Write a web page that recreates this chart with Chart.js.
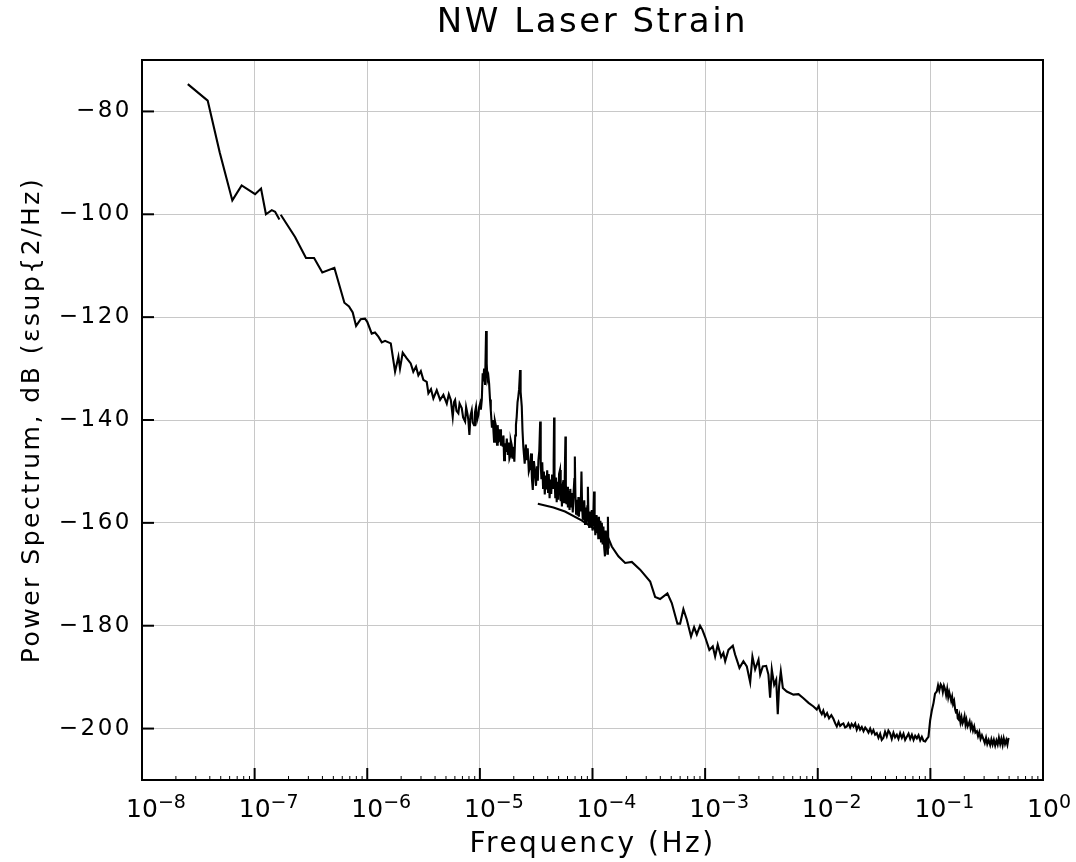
<!DOCTYPE html>
<html>
<head>
<meta charset="utf-8">
<script src="https://cdn.jsdelivr.net/npm/chart.js@4.4.1/dist/chart.umd.min.js"></script>
<style>
html,body{margin:0;padding:0;background:#fff;}
canvas{display:block;}
</style>
</head>
<body>
<canvas id="c" width="1076" height="862"></canvas>
<script>
// ---- data (frequency in Hz, power in dB) ----
const chartTitle = 'NW Laser Strain';
const xTitle = 'Frequency (Hz)';
const yTitle = 'Power Spectrum, dB (εsup{2/Hz)';
const xDecades = [-8, -7, -6, -5, -4, -3, -2, -1, 0];
const yTickValues = [-200, -180, -160, -140, -120, -100, -80];

// segment A: lowest frequencies
const segAFreq = [2.55e-8, 3.83e-8, 4.9e-8, 6.34e-8, 7.67e-8, 1.01e-7, 1.14e-7, 1.26e-7, 1.42e-7, 1.52e-7, 1.66e-7];
const segADb   = [-74.7, -77.9, -88.0, -97.3, -94.4, -96.1, -95.0, -100.0, -99.2, -99.5, -101.0];

// segment B: middle band with spectral lines
const segBFreq = [
 1.706e-7, 2.286e-7, 2.858e-7, 3.373e-7, 3.990e-7, 5.105e-7, 6.266e-7, 6.887e-7, 7.43e-7, 7.96e-7,
 8.75e-7, 9.55e-7, 1.0e-6, 1.096e-6, 1.172e-6, 1.256e-6, 1.346e-6, 1.439e-6, 1.618e-6, 1.766e-6,
 1.892e-6, 1.954e-6, 2.065e-6, 2.244e-6, 2.432e-6, 2.564e-6, 2.710e-6, 2.844e-6, 2.99e-6, 3.148e-6,
 3.373e-6, 3.491e-6, 3.681e-6, 3.864e-6, 4.140e-6, 4.436e-6, 4.742e-6,
 5.082e-6, 5.3e-6, 5.521e-6, 5.741e-6, 5.9e-6, 6.026e-6, 6.2e-6, 6.442e-6, 6.6e-6, 6.902e-6,
 7.1e-6, 7.396e-6, 7.55e-6, 7.745e-6, 7.9e-6, 8.072e-6, 8.25e-6, 8.472e-6, 8.65e-6, 8.872e-6,
 9.05e-6, 9.247e-6, 9.45e-6, 9.705e-6, 9.85e-6, 1.005e-5, 1.02e-5, 1.040e-5, 1.059e-5, 1.074e-5,
 1.09e-5, 1.112e-5, 1.135e-5, 1.15e-5, 1.167e-5, 1.19e-5, 1.208e-5, 1.23e-5, 1.250e-5,
 1.28e-5, 1.303e-5, 1.337e-5, 1.36e-5, 1.393e-5, 1.42e-5, 1.44e-5, 1.462e-5, 1.489e-5, 1.51e-5,
 1.54e-5, 1.567e-5, 1.596e-5, 1.62e-5, 1.641e-5, 1.67e-5, 1.70e-5, 1.734e-5, 1.77e-5, 1.80e-5,
 1.83e-5, 1.854e-5, 1.88e-5, 1.919e-5, 1.95e-5, 1.98e-5, 2.023e-5, 2.06e-5, 2.09e-5, 2.123e-5,
 2.16e-5, 2.193e-5, 2.23e-5, 2.275e-5, 2.30e-5, 2.355e-5, 2.39e-5,
 2.43e-5, 2.50e-5, 2.56e-5, 2.61e-5, 2.66e-5, 2.72e-5, 2.79e-5, 2.85e-5, 2.90e-5, 2.95e-5,
 3.02e-5, 3.09e-5, 3.15e-5, 3.21e-5, 3.27e-5, 3.31e-5, 3.37e-5, 3.43e-5, 3.47e-5, 3.52e-5,
 3.58e-5, 3.64e-5, 3.70e-5, 3.77e-5, 3.84e-5, 3.90e-5, 3.96e-5, 4.03e-5, 4.09e-5, 4.16e-5,
 4.23e-5, 4.30e-5, 4.38e-5, 4.46e-5, 4.52e-5, 4.56e-5, 4.60e-5, 4.67e-5, 4.74e-5, 4.81e-5,
 4.89e-5, 4.97e-5, 5.05e-5, 5.15e-5, 5.22e-5, 5.30e-5, 5.35e-5, 5.43e-5, 5.52e-5, 5.60e-5,
 5.67e-5, 5.75e-5, 5.80e-5, 5.87e-5, 5.95e-5, 6.05e-5, 6.15e-5, 6.25e-5, 6.35e-5, 6.45e-5,
 6.56e-5, 6.68e-5, 6.80e-5, 6.90e-5, 6.97e-5, 7.05e-5, 7.15e-5, 7.26e-5, 7.38e-5, 7.50e-5,
 7.57e-5, 7.70e-5, 7.85e-5, 7.98e-5, 8.08e-5, 8.20e-5, 8.32e-5, 8.45e-5, 8.58e-5, 8.70e-5,
 8.85e-5, 9.00e-5, 9.10e-5, 9.20e-5, 9.35e-5, 9.53e-5, 9.70e-5, 9.85e-5, 1.00e-4, 1.02e-4,
 1.033e-4, 1.045e-4, 1.06e-4, 1.076e-4, 1.09e-4, 1.11e-4, 1.125e-4, 1.14e-4, 1.16e-4, 1.175e-4,
 1.19e-4, 1.21e-4, 1.23e-4, 1.25e-4, 1.27e-4, 1.29e-4, 1.31e-4, 1.325e-4, 1.34e-4, 1.355e-4,
 1.37e-4, 1.38e-4, 1.39e-4
];
const segBDb = [
 -100.1, -104.4, -108.5, -108.5, -111.3, -110.4, -117.2, -117.9, -119.1, -121.7,
 -120.4, -120.3, -120.9, -123.2, -123.0, -123.8, -124.9, -124.6, -125.1, -130.6,
 -127.7, -130.0, -126.9, -128.0, -129.0, -130.6, -129.6, -131.3, -130.5, -132.2,
 -132.6, -134.8, -134.0, -135.8, -134.2, -136.1, -135.1,
 -136.8, -135.0, -136.1, -139.4, -136.5, -136.1, -138.2, -138.7, -136.8, -137.7,
 -139.5, -140.3, -137.5, -138.7, -140.0, -142.9, -139.2, -138.1, -140.5, -141.0,
 -138.5, -137.4, -140.0, -139.0, -137.5, -136.8, -138.0, -136.1, -130.9, -132.5,
 -130.0, -133.2, -122.7, -129.0, -132.2, -131.5, -132.9, -136.0, -138.1,
 -141.5, -140.0, -144.2, -140.2, -141.3, -144.8, -141.0, -144.2, -143.9, -141.8,
 -145.0, -143.2, -145.2, -143.0, -147.8, -144.5, -146.2, -143.6, -146.8, -144.4,
 -147.5, -147.1, -144.0, -144.9, -147.5, -145.2, -148.1, -143.0, -141.0, -139.4,
 -136.5, -135.5, -134.0, -130.3, -134.5, -137.4, -142.0,
 -145.2, -148.5, -144.8, -147.8, -145.5, -150.0, -149.1, -146.5, -151.5, -153.6,
 -148.0, -150.4, -152.8, -149.0, -151.8, -147.8, -146.0, -140.3, -148.5, -151.5,
 -148.2, -153.2, -150.0, -154.5, -150.8, -153.5, -149.8, -154.0, -150.5, -155.2,
 -151.6, -154.4, -150.6, -153.2, -148.0, -139.5, -150.6, -155.0, -151.2, -156.0,
 -152.0, -155.5, -150.5, -149.7, -155.8, -152.4, -156.8, -152.8, -151.7, -156.0,
 -151.0, -143.2, -152.5, -156.4, -153.0, -157.0, -153.8, -157.5, -153.4, -156.8,
 -154.2, -158.0, -154.0, -151.5, -147.1, -154.6, -158.2, -155.5, -158.6, -155.0,
 -158.8, -155.2, -157.8, -150.0, -156.5, -159.4, -158.1, -155.6, -160.2, -157.0,
 -160.1, -156.8, -153.0, -158.6, -161.0, -157.8, -160.7, -157.5, -161.5, -158.0,
 -153.9, -159.5, -162.4, -158.5, -162.0, -159.0, -163.0, -158.8, -162.5, -159.6,
 -163.6, -160.0, -164.2, -160.7, -164.8, -166.5, -161.5, -164.5, -162.0, -166.0,
 -158.8, -163.5, -165.0
];

// segment C: high frequencies
const segCFreq = [
 3.27e-5, 4.5e-5, 5.7e-5, 8.0e-5, 1.1e-4, 1.384e-4, 1.483e-4, 1.698e-4, 1.950e-4, 2.234e-4,
 2.649e-4, 3.251e-4, 3.597e-4, 3.981e-4, 4.624e-4, 5.058e-4, 5.675e-4, 5.998e-4, 6.412e-4, 6.871e-4,
 7.499e-4, 7.980e-4, 8.433e-4, 9.016e-4, 9.462e-4, 1.0e-3, 1.091e-3, 1.169e-3, 1.227e-3, 1.294e-3,
 1.387e-3, 1.452e-3, 1.507e-3, 1.611e-3, 1.762e-3, 1.845e-3, 1.910e-3, 2.018e-3, 2.188e-3, 2.344e-3,
 2.512e-3, 2.630e-3, 2.780e-3, 2.979e-3, 3.083e-3, 3.251e-3, 3.483e-3, 3.648e-3, 3.776e-3, 3.908e-3,
 4.102e-3, 4.276e-3, 4.416e-3, 4.539e-3, 4.699e-3, 4.898e-3, 5.309e-3, 6.081e-3, 6.745e-3, 7.464e-3,
 8.279e-3, 9.162e-3, 9.795e-3, 1.02e-2, 1.050e-2, 1.086e-2, 1.12e-2, 1.161e-2, 1.21e-2, 1.26e-2,
 1.32e-2, 1.377e-2, 1.43e-2, 1.476e-2, 1.53e-2, 1.58e-2, 1.633e-2, 1.69e-2, 1.75e-2, 1.811e-2,
 1.87e-2, 1.94e-2, 2.00e-2, 2.075e-2, 2.15e-2, 2.22e-2, 2.30e-2, 2.377e-2, 2.46e-2, 2.55e-2,
 2.64e-2, 2.723e-2, 2.82e-2, 2.92e-2, 3.02e-2, 3.12e-2, 3.23e-2, 3.342e-2, 3.46e-2, 3.58e-2,
 3.70e-2, 3.828e-2, 3.96e-2, 4.10e-2, 4.24e-2, 4.385e-2, 4.54e-2, 4.70e-2, 4.86e-2, 5.035e-2,
 5.21e-2, 5.39e-2, 5.58e-2, 5.77e-2, 5.97e-2, 6.18e-2, 6.40e-2, 6.62e-2, 6.85e-2, 7.09e-2,
 7.33e-2, 7.586e-2, 7.85e-2, 8.12e-2, 8.40e-2, 8.70e-2, 8.995e-2, 9.30e-2, 9.616e-2, 9.954e-2,
 0.1030, 0.1067, 0.1100, 0.1140, 0.1170, 0.1200, 0.1235, 0.1265, 0.1290, 0.1320,
 0.1352, 0.1380, 0.1410, 0.1440, 0.1470, 0.1500, 0.1530, 0.1560, 0.1590, 0.1625,
 0.1660, 0.1690, 0.1720, 0.1750, 0.1778, 0.1810, 0.1850, 0.1890, 0.1930, 0.1968,
 0.2010, 0.2050, 0.2090, 0.2140, 0.2183, 0.2230, 0.2280, 0.2330, 0.2390, 0.2450,
 0.2510, 0.2588, 0.2650, 0.2720, 0.2790, 0.2870, 0.2965, 0.3040, 0.3120, 0.3200,
 0.3290, 0.3396, 0.3480, 0.3570, 0.3660, 0.3760, 0.3860, 0.3960, 0.4060, 0.4169,
 0.4270, 0.4380, 0.4480, 0.4600, 0.4720, 0.4830, 0.4943
];
const segCDb = [
 -156.3, -157.0, -157.8, -159.5, -161.5, -163.0, -164.6, -166.5, -167.8, -167.6,
 -169.1, -171.4, -174.4, -174.8, -173.7, -175.6, -179.6, -179.6, -176.8, -178.8,
 -182.1, -180.3, -181.7, -180.0, -180.8, -182.2, -184.7, -184.0, -186.0, -183.7,
 -186.1, -185.3, -186.9, -184.7, -183.9, -185.6, -186.6, -188.2, -186.9, -187.9,
 -191.0, -186.0, -188.5, -186.6, -189.5, -187.9, -187.8, -189.5, -194.0, -188.5,
 -191.5, -190.5, -197.2, -191.8, -188.9, -192.1, -192.8, -193.4, -193.3, -194.1,
 -195.0, -195.7, -196.3, -195.6, -196.6, -197.2, -196.5, -197.6, -197.0, -198.0,
 -197.4, -198.1, -199.0, -199.6, -198.7, -199.5, -199.2, -199.0, -199.8, -199.6,
 -199.0, -199.8, -199.1, -199.6, -199.0, -200.2, -199.4, -200.2, -199.7, -200.5,
 -199.8, -200.2, -200.8, -200.0, -200.9, -200.3, -201.2, -200.9, -201.8, -201.0,
 -202.2, -201.8, -200.6, -201.5, -200.4, -200.9, -202.0, -200.8, -201.7, -201.2,
 -202.0, -200.9, -201.8, -201.0, -202.2, -201.6, -201.0, -202.0, -201.2, -202.2,
 -201.4, -201.9, -201.3, -202.3, -201.6, -202.4, -202.5, -202.0, -201.6, -198.4,
 -196.5, -195.0, -193.2, -192.8, -191.6, -192.6, -191.4, -191.8, -192.9, -191.7,
 -192.4, -193.5, -192.3, -193.9, -192.9, -193.7, -194.6, -193.8, -195.2, -194.6,
 -196.3, -196.9, -196.2, -198.0, -198.2, -197.4, -198.8, -197.8, -199.0, -198.5,
 -197.6, -199.2, -198.3, -199.6, -199.2, -198.6, -200.0, -199.2, -200.4, -199.6,
 -200.8, -200.5, -201.5, -200.7, -202.0, -201.3, -202.1, -202.8, -201.8, -203.0,
 -202.2, -203.2, -202.1, -203.1, -202.2, -203.3, -202.3, -203.1, -201.8, -203.0,
 -202.0, -203.2, -201.9, -203.0, -202.2, -203.1, -201.8
];

// ---- chart ----
const FONT = '"DejaVu Sans", "Liberation Sans", sans-serif';
const toPoints = (fs, ds) => fs.map((f, i) => ({x: f, y: ds[i]}));
const lineStyle = {showLine: true, borderColor: '#000', borderWidth: 2.1, pointRadius: 0, tension: 0, fill: false};

const decor = {
  id: 'decor',
  beforeDraw(chart) {
    const c = chart.ctx;
    c.save();
    c.fillStyle = '#fff';
    c.fillRect(0, 0, chart.width, chart.height);
    c.restore();
    c.letterSpacing = '2.5px';
  },
  afterDraw(chart) {
    const {ctx, chartArea: a, scales: {x, y}} = chart;
    ctx.save();
    ctx.letterSpacing = '0px';
    ctx.strokeStyle = '#000';
    ctx.lineWidth = 2;
    ctx.strokeRect(a.left, a.top, a.right - a.left, a.bottom - a.top);
    const seg = (x1, y1, x2, y2) => { ctx.beginPath(); ctx.moveTo(x1, y1); ctx.lineTo(x2, y2); ctx.stroke(); };
    // inward y ticks
    yTickValues.forEach(v => { const py = y.getPixelForValue(v); seg(a.left, py, a.left + 12, py); });
    // inward x ticks (major + minor)
    xDecades.forEach(e => {
      for (let m = 1; m < 10; m++) {
        const v = m * Math.pow(10, e);
        if (v > 1.0000001) break;
        const px = x.getPixelForValue(v);
        ctx.lineWidth = m === 1 ? 2 : 1;
        seg(px, a.bottom, px, a.bottom - (m === 1 ? 12 : 4));
      }
    });
    // x tick labels: 10 with superscript exponent
    ctx.fillStyle = '#000';
    ctx.textBaseline = 'alphabetic';
    xDecades.forEach(e => {
      const px = x.getPixelForValue(Math.pow(10, e));
      ctx.font = '25px ' + FONT;
      ctx.textAlign = 'center';
      ctx.fillText('10', px, a.bottom + 37);
      const w = ctx.measureText('10').width;
      ctx.font = '19px ' + FONT;
      ctx.textAlign = 'left';
      ctx.fillText(e === 0 ? '0' : '\u2212' + Math.abs(e), px + w / 2, a.bottom + 28);
    });
    ctx.restore();
  }
};

new Chart(document.getElementById('c'), {
  type: 'scatter',
  data: {
    datasets: [
      Object.assign({data: toPoints(segAFreq, segADb)}, lineStyle),
      Object.assign({data: toPoints(segBFreq, segBDb)}, lineStyle),
      Object.assign({data: toPoints(segCFreq, segCDb)}, lineStyle)
    ]
  },
  options: {
    responsive: false,
    animation: false,
    devicePixelRatio: 1,
    layout: {padding: {left: 0, right: 33, top: 0, bottom: 0}},
    plugins: {
      legend: {display: false},
      tooltip: {enabled: false},
      title: {
        display: true, text: chartTitle, fullSize: false, color: '#000',
        font: {family: FONT, size: 34, weight: 'normal', lineHeight: 1.2},
        padding: {top: 3, bottom: 16.2}
      }
    },
    scales: {
      x: {
        type: 'logarithmic', position: 'bottom', min: 1e-8, max: 1,
        afterBuildTicks: s => { s.ticks = xDecades.map(e => ({value: Math.pow(10, e)})); },
        afterFit: s => { s.height = 82; },
        ticks: {display: false},
        grid: {color: '#c8c8c8', lineWidth: 1, drawTicks: false},
        border: {display: true, color: '#000', width: 2},
        title: {display: true, text: xTitle, color: '#000', font: {family: FONT, size: 28, weight: 'normal', lineHeight: 1.2}, padding: {top: 0, bottom: 0}}
      },
      y: {
        type: 'linear', position: 'left', min: -210, max: -70,
        afterBuildTicks: s => { s.ticks = yTickValues.map(v => ({value: v})); },
        afterFit: s => { s.width = 142; },
        ticks: {color: '#000', padding: 10, font: {family: FONT, size: 23}, callback: v => (v < 0 ? '\u2212' : '') + Math.abs(v)},
        grid: {color: '#c8c8c8', lineWidth: 1, drawTicks: false},
        border: {display: true, color: '#000', width: 2},
        title: {display: true, text: yTitle, color: '#000', font: {family: FONT, size: 25, weight: 'normal', lineHeight: 1.2}, padding: {top: 17, bottom: 0}}
      }
    }
  },
  plugins: [decor]
});
</script>
</body>
</html>
